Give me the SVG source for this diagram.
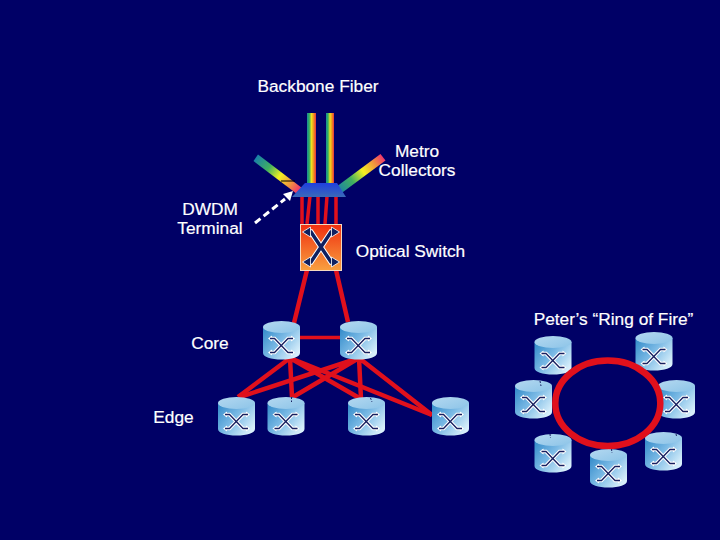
<svg xmlns="http://www.w3.org/2000/svg" xmlns:xlink="http://www.w3.org/1999/xlink" width="720" height="540" viewBox="0 0 720 540">
<style>
text{font-family:"Liberation Sans",Arial,sans-serif;font-size:17.3px;fill:#fff;text-anchor:middle;stroke:#fff;stroke-width:0.2}
.red{stroke:#e0101c;fill:none;stroke-width:4.5}
.thin{stroke-width:3.5}
.xw{fill:none;stroke:#fff;stroke-width:3.6}
.xd{fill:none;stroke:#182060;stroke-width:1.300}
.tick{stroke:#182060;stroke-width:1;stroke-dasharray:2 1.500}
</style>
<defs>
<linearGradient id="body" x1="0" y1="0" x2="1" y2="0.7"><stop offset="0" stop-color="#2f88c8"/><stop offset="0.5" stop-color="#78b8e4"/><stop offset="1" stop-color="#d8effb"/></linearGradient>
<linearGradient id="top" x1="0" y1="0" x2="1" y2="1"><stop offset="0" stop-color="#b4d8f0"/><stop offset="1" stop-color="#8cc4e8"/></linearGradient>
<linearGradient id="rb" x1="0" y1="0" x2="1" y2="0"><stop offset="0" stop-color="#1a8a9a"/><stop offset="0.25" stop-color="#30b060"/><stop offset="0.5" stop-color="#f0e020"/><stop offset="0.75" stop-color="#f09020"/><stop offset="1" stop-color="#e83040"/></linearGradient>
<linearGradient id="rbL" gradientUnits="userSpaceOnUse" x1="256" y1="158" x2="300" y2="190"><stop offset="0" stop-color="#1a80a8"/><stop offset="0.3" stop-color="#40b060"/><stop offset="0.55" stop-color="#f4f020"/><stop offset="0.8" stop-color="#f09040"/><stop offset="1" stop-color="#f03070"/></linearGradient>
<linearGradient id="rbR" gradientUnits="userSpaceOnUse" x1="338" y1="190" x2="384" y2="157"><stop offset="0" stop-color="#1a80a8"/><stop offset="0.3" stop-color="#40b060"/><stop offset="0.55" stop-color="#f4f020"/><stop offset="0.8" stop-color="#f09040"/><stop offset="1" stop-color="#f03070"/></linearGradient>
<linearGradient id="trap" x1="0" y1="0" x2="0" y2="1"><stop offset="0" stop-color="#1f3fe0"/><stop offset="1" stop-color="#3a6ab8"/></linearGradient>
<linearGradient id="sw" x1="0" y1="0" x2="0" y2="1"><stop offset="0" stop-color="#f03010"/><stop offset="1" stop-color="#f8a040"/></linearGradient>
<g id="router">
<path d="M0 6V32C0 36 8 38.500 18.500 38.500S37 36 37 32V6Z" fill="url(#body)"/>
<ellipse cx="18.500" cy="6" rx="18.500" ry="6" fill="url(#top)"/>
<path class="xw" d="M7 17.500H11.500L25 31.500H30M7 31.500H11.500L25 17.500H30"/>
<path d="M5 17.500l4-3v6zM32 17.500l-4-3v6zM5 31.500l4-3v6zM32 31.500l-4-3v6z" fill="#fff"/>
<path class="xd" d="M7 17.500H11.500L25 31.500H30M7 31.500H11.500L25 17.500H30"/>
</g>
</defs>
<rect id="background" width="720" height="540" fill="#000066"/>
<text x="318" y="92">Backbone Fiber</text>
<text x="417" y="157">Metro</text>
<text x="417" y="176">Collectors</text>
<text x="210" y="215">DWDM</text>
<text x="210" y="234">Terminal</text>
<text x="410.500" y="257">Optical Switch</text>
<text x="613.500" y="325">Peter’s “Ring of Fire”</text>
<text x="210" y="349">Core</text>
<text x="173.500" y="423">Edge</text>
<g id="connectors">
<g class="red">
<path d="M307 270L294 323M336 270L348 322"/>
<path class="thin" d="M299 337.500H341"/>
<path d="M290 358L238 397M290 358L292 397M290 358L361 399M290 358L432 415"/>
<path d="M359 358L240 397M359 358L293 397M359 358L361 399M359 358L432 415"/>
<path class="thin" d="M302 196V224M310 196L307 224M318 196V224M327 196L325 224M336 196V224"/>
</g>
<path d="M255 223L285 199" stroke="#fff" stroke-width="3" stroke-dasharray="7 4" fill="none"/>
<polygon points="293,191 290,201 283,194" fill="#fff"/>
</g>
<g id="dwdm-terminal">
<rect x="307" y="113" width="9" height="71" fill="url(#rb)"/>
<rect x="326" y="113" width="8" height="71" fill="url(#rb)"/>
<polygon points="258,154.500 302,188 297,194 253.500,161" fill="url(#rbL)"/>
<polygon points="380.500,154 385.500,160.500 341,193.500 336,187" fill="url(#rbR)"/>
<line x1="281" y1="181" x2="295" y2="181" stroke="#000" stroke-width="1"/>
<polygon points="305,183 337,183 346,197 292,197" fill="url(#trap)"/>
</g>
<g id="optical-switch">
<rect x="300.500" y="224.500" width="41" height="46" fill="url(#sw)" stroke="#f4d8c0" stroke-width="1"/>
<path d="M307 232H311L331 262H335M307 262H311L331 232H335" fill="none" stroke="#fff" stroke-width="5.500"/>
<path d="M307 232H311L331 262H335M307 262H311L331 232H335" fill="none" stroke="#102060" stroke-width="3.500"/>
<path d="M302.500 232l8-5v10zM339.500 232l-8-5v10zM302.500 262l8-5v10zM339.500 262l-8-5v10z" fill="#102060" stroke="#fff" stroke-width="0.800"/>
</g>
<use id="core-1" xlink:href="#router" href="#router" x="263" y="321"/>
<use id="core-2" xlink:href="#router" href="#router" x="340" y="321"/>
<use id="edge-1" xlink:href="#router" href="#router" x="218" y="397"/>
<use id="edge-2" xlink:href="#router" href="#router" x="267.500" y="397"/>
<use id="edge-3" xlink:href="#router" href="#router" x="348" y="397"/>
<use id="edge-4" xlink:href="#router" href="#router" x="432" y="397"/>
<use id="ring-1" xlink:href="#router" href="#router" x="534.500" y="336"/>
<use id="ring-2" xlink:href="#router" href="#router" x="635.500" y="332"/>
<use id="ring-3" xlink:href="#router" href="#router" x="515" y="380"/>
<use id="ring-4" xlink:href="#router" href="#router" x="658" y="380"/>
<use id="ring-5" xlink:href="#router" href="#router" x="534.500" y="434"/>
<use id="ring-6" xlink:href="#router" href="#router" x="645" y="432"/>
<use id="ring-7" xlink:href="#router" href="#router" x="590" y="449"/>
<g id="router-marks" class="tick">
<path d="M291.500 397v5M370.500 398l1.500 4M540 381l1 5M550 434l.5 4M676 434l.5 2M611.500 449l.5 4"/>
</g>
<ellipse id="ring" cx="607.800" cy="403.300" rx="52.500" ry="42.700" fill="none" stroke="#e0101c" stroke-width="6.500"/>
</svg>
